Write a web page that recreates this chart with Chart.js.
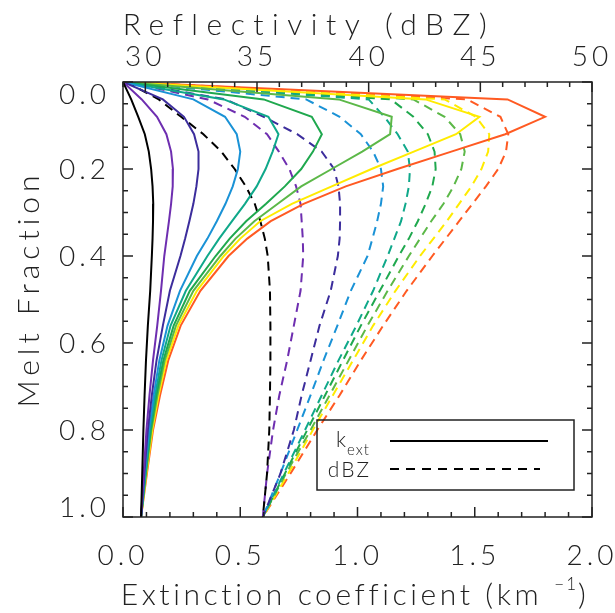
<!DOCTYPE html>
<html>
<head>
<meta charset="utf-8">
<script src="https://cdn.jsdelivr.net/npm/chart.js@4.4.1/dist/chart.umd.min.js"></script>
<style>
  html, body { margin: 0; padding: 0; background: #fff; }
  #wrap { width: 615px; height: 613px; position: relative; }
</style>
</head>
<body>
<div id="wrap"><canvas id="meltChart"></canvas></div>
<script>
// melt fraction levels shared by every curve
const meltFraction = [0, 0.04, 0.08, 0.12, 0.16, 0.2, 0.24, 0.28, 0.32, 0.36, 0.4, 0.48, 0.56, 0.64, 0.72, 0.8, 0.9, 1.0];

// extinction coefficient (km^-1), one curve per colour
const kextBlack  = [0, 0.035, 0.065, 0.093, 0.11, 0.12, 0.126, 0.129, 0.128, 0.126, 0.123, 0.116, 0.106, 0.098, 0.092, 0.087, 0.082, 0.077];
const kextViolet = [0, 0.08, 0.145, 0.185, 0.205, 0.213, 0.212, 0.205, 0.196, 0.186, 0.176, 0.162, 0.146, 0.128, 0.113, 0.1, 0.088, 0.077];
const kextIndigo = [0, 0.17, 0.26, 0.303, 0.322, 0.322, 0.313, 0.3, 0.283, 0.265, 0.245, 0.2, 0.17, 0.143, 0.123, 0.106, 0.091, 0.077];
const kextBlue   = [0, 0.3, 0.435, 0.485, 0.5, 0.49, 0.468, 0.437, 0.4, 0.36, 0.315, 0.243, 0.19, 0.155, 0.131, 0.111, 0.093, 0.077];
const kextTeal   = [0, 0.43, 0.62, 0.663, 0.638, 0.608, 0.57, 0.52, 0.465, 0.41, 0.36, 0.268, 0.203, 0.164, 0.137, 0.115, 0.095, 0.077];
const kextGreen  = [0, 0.6, 0.805, 0.848, 0.81, 0.76, 0.69, 0.61, 0.525, 0.455, 0.395, 0.285, 0.216, 0.172, 0.142, 0.118, 0.097, 0.077];
const kextLime   = [0, 0.92, 1.146, 1.139, 1.02, 0.89, 0.76, 0.66, 0.56, 0.48, 0.415, 0.3, 0.226, 0.178, 0.147, 0.121, 0.098, 0.077];
const kextYellow = [0, 1.29, 1.52, 1.42, 1.24, 1.06, 0.89, 0.72, 0.585, 0.5, 0.43, 0.315, 0.236, 0.185, 0.152, 0.125, 0.1, 0.077];
const kextOrange = [0, 1.64, 1.8, 1.63, 1.4, 1.17, 0.95, 0.77, 0.63, 0.53, 0.45, 0.33, 0.246, 0.193, 0.158, 0.128, 0.102, 0.077];

// reflectivity (dBZ), same colours
const dbzBlack  = [29.15, 30.6, 31.6, 32.6, 33.4, 34.0, 34.5, 34.9, 35.15, 35.35, 35.48, 35.58, 35.6, 35.6, 35.58, 35.55, 35.45, 35.26];
const dbzViolet = [29.15, 32.8, 34.45, 35.45, 35.98, 36.45, 36.75, 36.95, 37.0, 37.05, 37.07, 36.95, 36.65, 36.35, 36.0, 35.72, 35.45, 35.26];
const dbzIndigo = [29.15, 33.6, 35.3, 36.8, 37.9, 38.45, 38.65, 38.72, 38.72, 38.7, 38.62, 38.3, 37.8, 37.4, 37.0, 36.65, 36.05, 35.26];
const dbzBlue   = [29.15, 37.2, 38.7, 39.65, 40.2, 40.55, 40.65, 40.55, 40.38, 40.17, 39.95, 39.2, 38.6, 37.98, 37.4, 36.8, 36.05, 35.26];
const dbzTeal   = [29.15, 40.0, 40.7, 41.3, 41.75, 41.85, 41.8, 41.65, 41.45, 41.15, 40.85, 40.2, 39.45, 38.65, 37.9, 37.15, 36.2, 35.26];
const dbzGreen  = [29.15, 41.0, 42.0, 42.65, 42.95, 43.0, 42.85, 42.55, 42.2, 41.8, 41.35, 40.5, 39.65, 38.85, 38.05, 37.25, 36.25, 35.26];
const dbzLime   = [29.15, 42.0, 43.4, 44.1, 44.3, 44.15, 43.8, 43.35, 42.8, 42.3, 41.8, 40.85, 39.95, 39.1, 38.25, 37.4, 36.3, 35.26];
const dbzYellow = [29.15, 43.4, 44.8, 45.4, 45.35, 45.05, 44.6, 44.05, 43.5, 42.9, 42.3, 41.2, 40.2, 39.3, 38.4, 37.5, 36.4, 35.26];
const dbzOrange = [29.15, 44.4, 45.9, 46.25, 46.15, 45.8, 45.25, 44.65, 44.05, 43.45, 42.85, 41.7, 40.65, 39.65, 38.7, 37.7, 36.5, 35.26];

const kextCurves = [kextBlack, kextViolet, kextIndigo, kextBlue, kextTeal, kextGreen, kextLime, kextYellow, kextOrange];
const dbzCurves  = [dbzBlack, dbzViolet, dbzIndigo, dbzBlue, dbzTeal, dbzGreen, dbzLime, dbzYellow, dbzOrange];
const curveColors = ['#000000', '#6e2eb0', '#3c2d9c', '#1a92d6', '#0fa88a', '#1fa84e', '#5cb848', '#ffeb00', '#ff5a22'];

// tick labels
const meltTicks = [0, 0.2, 0.4, 0.6, 0.8, 1.0];
const kextTicks = [0, 0.5, 1.0, 1.5, 2.0];
const dbzTicks  = [30, 35, 40, 45, 50];

const INK = '#222';
const FONT = 'Lato, "DejaVu Sans", sans-serif';

function points(xs) {
  return meltFraction.map((m, i) => ({ x: xs[i], y: m }));
}

const datasets = [];
kextCurves.forEach((c, i) => {
  datasets.push({
    data: points(c), xAxisID: 'x', yAxisID: 'y',
    borderColor: curveColors[i], borderWidth: 2
  });
});
dbzCurves.forEach((c, i) => {
  datasets.push({
    data: points(c), xAxisID: 'x2', yAxisID: 'y',
    borderColor: curveColors[i], borderWidth: 2, borderDash: [9, 6]
  });
});

function text(ctx, str, x, y, size, align, spacing) {
  ctx.font = '300 ' + size + 'px ' + FONT;
  ctx.letterSpacing = (spacing || 0) + 'px';
  ctx.textAlign = align;
  ctx.textBaseline = 'alphabetic';
  ctx.fillText(str, x, y);
}

// frame, inward ticks, labels and the line-style key
const axesPlugin = {
  id: 'idlAxes',
  afterDraw(chart) {
    const { ctx, chartArea: a, scales } = chart;
    const sx = scales.x, st = scales.x2, sy = scales.y;
    ctx.save();
    ctx.strokeStyle = INK;
    ctx.fillStyle = INK;
    ctx.lineWidth = 1.5;
    ctx.strokeRect(a.left, a.top, a.right - a.left, a.bottom - a.top);

    ctx.beginPath();
    for (let i = 0; i <= 20; i++) {
      const px = sx.getPixelForValue(i / 10);
      const len = i % 5 === 0 ? 10 : 5;
      ctx.moveTo(px, a.bottom); ctx.lineTo(px, a.bottom - len);
    }
    for (let v = 29; v <= 50; v++) {
      const px = st.getPixelForValue(v);
      const len = v % 5 === 0 ? 10 : 5;
      ctx.moveTo(px, a.top); ctx.lineTo(px, a.top + len);
    }
    for (let i = 0; i <= 20; i++) {
      const py = sy.getPixelForValue(i / 20);
      const len = i % 4 === 0 ? 10 : 5;
      ctx.moveTo(a.left, py); ctx.lineTo(a.left + len, py);
      ctx.moveTo(a.right, py); ctx.lineTo(a.right - len, py);
    }
    ctx.stroke();

    kextTicks.forEach(v => text(ctx, v.toFixed(1), sx.getPixelForValue(v), 565, 28, 'center', 4));
    dbzTicks.forEach(v => text(ctx, String(v), st.getPixelForValue(v), 66, 28, 'center', 4));
    meltTicks.forEach(v => {
      let py = sy.getPixelForValue(v);
      py = Math.min(Math.max(py, a.top + 12), a.bottom - 10);
      text(ctx, v.toFixed(1), 110, py + 10, 28, 'right', 4);
    });

    text(ctx, 'Reflectivity (dBZ)', 309, 35, 30, 'center', 8.5);

    // bottom title with superscript unit
    ctx.font = '300 30px ' + FONT; ctx.letterSpacing = '3.6px';
    const main = 'Extinction coefficient (km';
    const w1 = ctx.measureText(main).width;
    ctx.font = '300 17px ' + FONT; ctx.letterSpacing = '2px';
    const w2 = ctx.measureText('\u22121').width;
    ctx.font = '300 30px ' + FONT; ctx.letterSpacing = '3.6px';
    const w3 = ctx.measureText(')').width;
    const gap = 12;
    let x0 = 355 - (w1 + gap + w2 + w3) / 2;
    text(ctx, main, x0, 605, 30, 'left', 3.6);
    text(ctx, '\u22121', x0 + w1 + gap, 590, 17, 'left', 2);
    text(ctx, ')', x0 + w1 + gap + w2, 605, 30, 'left', 3.6);

    ctx.save();
    ctx.translate(39, 289);
    ctx.rotate(-Math.PI / 2);
    text(ctx, 'Melt Fraction', 0, 0, 30, 'center', 5);
    ctx.restore();

    // key
    ctx.lineWidth = 1.5;
    ctx.strokeRect(317, 420, 257, 70);
    text(ctx, 'k', 346, 447, 21, 'right', 0);
    text(ctx, 'ext', 347, 455, 15, 'left', 1);
    text(ctx, 'dBZ', 371, 477, 21, 'right', 2);
    ctx.lineWidth = 2;
    ctx.strokeStyle = '#000';
    ctx.beginPath(); ctx.moveTo(390, 441); ctx.lineTo(548, 441); ctx.stroke();
    ctx.setLineDash([9, 7]);
    ctx.beginPath(); ctx.moveTo(390, 469); ctx.lineTo(540, 469); ctx.stroke();
    ctx.restore();
  }
};

const hidden = { grid: { display: false }, border: { display: false }, ticks: { display: false } };

new Chart(document.getElementById('meltChart'), {
  type: 'scatter',
  data: { datasets },
  options: {
    responsive: true,
    maintainAspectRatio: false,
    animation: false,
    showLine: true,
    elements: { point: { radius: 0 }, line: { tension: 0, fill: false } },
    layout: { padding: { top: 0, left: 0, bottom: 0, right: 23 } },
    plugins: { legend: { display: false }, tooltip: { enabled: false } },
    scales: {
      x: { type: 'linear', position: 'bottom', min: 0, max: 2, ...hidden,
           afterFit: s => { s.height = 96; } },
      x2: { type: 'linear', position: 'top', min: 29, max: 50, ...hidden,
            afterFit: s => { s.height = 82; } },
      y: { type: 'linear', position: 'left', reverse: true, min: 0, max: 1, ...hidden,
           afterFit: s => { s.width = 123; } }
    }
  },
  plugins: [axesPlugin]
});
</script>
</body>
</html>
